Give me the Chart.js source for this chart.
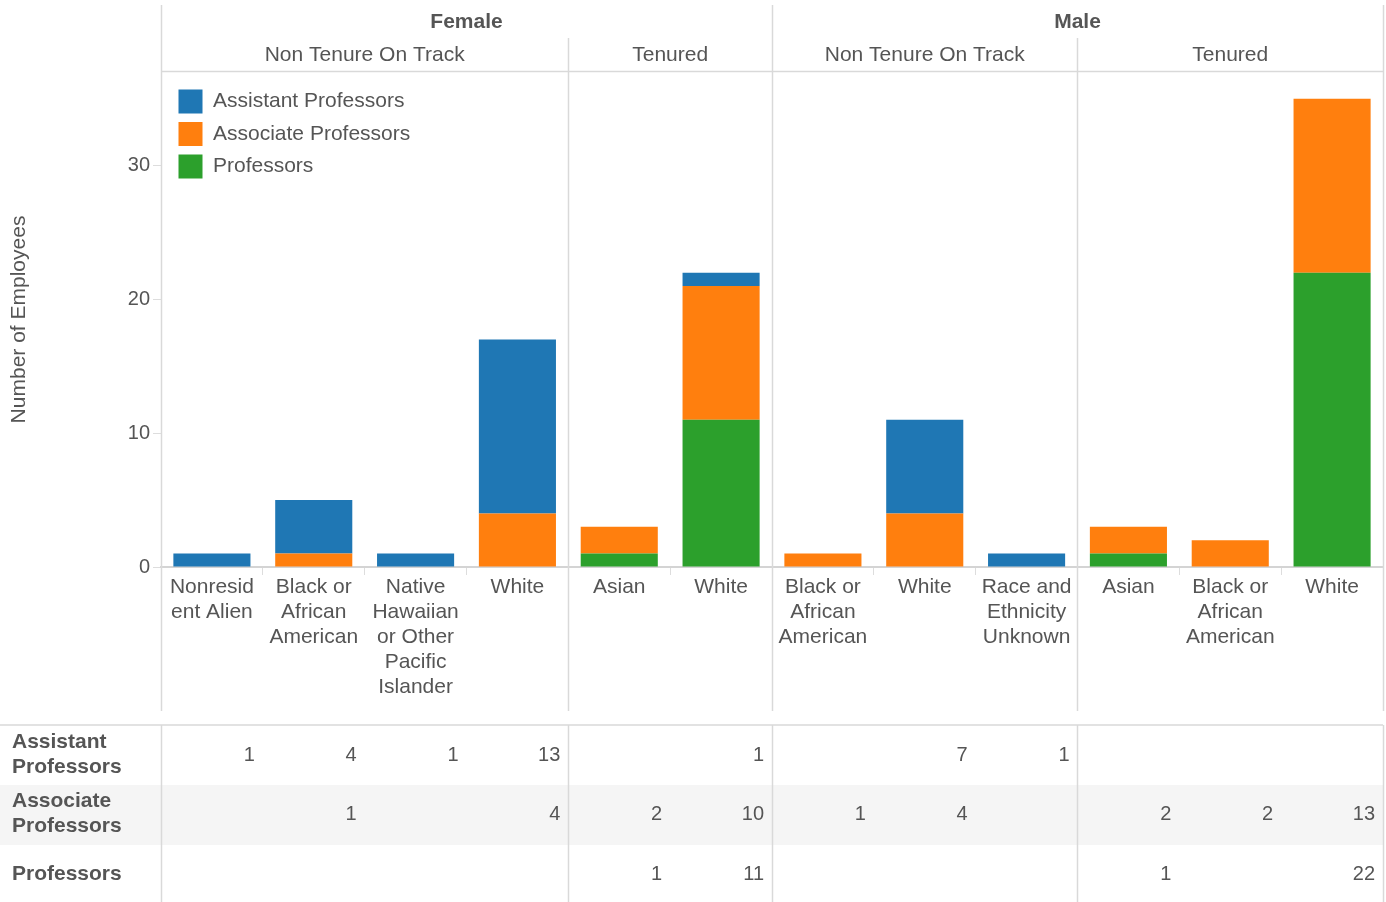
<!DOCTYPE html>
<html><head><meta charset="utf-8">
<script src="https://cdn.jsdelivr.net/npm/chart.js@4.4.1/dist/chart.umd.min.js"></script>
<style>html,body{margin:0;padding:0;background:#fff;overflow:hidden}</style>
</head><body>
<canvas id="c" width="1386" height="902"></canvas>
<script>
// ---- data ----
const genders = ['Female', 'Male'];
const genderSpans = [6, 6];
const tenures = ['Non Tenure On Track', 'Tenured', 'Non Tenure On Track', 'Tenured'];
const tenureSpans = [4, 2, 3, 3];
const categories = [
  ['Nonresid', 'ent Alien'],
  ['Black or', 'African', 'American'],
  ['Native', 'Hawaiian', 'or Other', 'Pacific', 'Islander'],
  ['White'],
  ['Asian'],
  ['White'],
  ['Black or', 'African', 'American'],
  ['White'],
  ['Race and', 'Ethnicity', 'Unknown'],
  ['Asian'],
  ['Black or', 'African', 'American'],
  ['White']
];
const assistantProfessors = [1, 4, 1, 13, null, 1, null, 7, 1, null, null, null];
const associateProfessors = [null, 1, null, 4, 2, 10, 1, 4, null, 2, 2, 13];
const professors = [null, null, null, null, 1, 11, null, null, null, 1, null, 22];
const seriesNames = ['Assistant Professors', 'Associate Professors', 'Professors'];
const rowLabels = [['Assistant', 'Professors'], ['Associate', 'Professors'], ['Professors']];
const yTicks = [0, 10, 20, 30];

// ---- styles ----
const FONT = "'Liberation Sans', Arial, sans-serif";
const TXT = '#555555';
const LINE = '#d9d9d9';
const colors = ['#1f77b4', '#ff7f0e', '#2ca02c'];
Chart.defaults.font.family = FONT;
Chart.defaults.color = TXT;

const tableSeries = [assistantProfessors, associateProfessors, professors];

const frame = {
  id: 'frame',
  afterLayout(chart) {
    const lg = chart.legend, a = chart.chartArea;
    if (lg) {
      const w = lg.width, h = lg.height;
      lg.left = a.left + 9; lg.top = a.top + 9;
      lg.right = lg.left + w; lg.bottom = lg.top + h;
    }
  },
  beforeDraw(chart) {
    const {ctx, chartArea: a} = chart;
    ctx.save();
    ctx.fillStyle = '#f5f5f5';
    ctx.fillRect(0, 785, a.right, 60);
    ctx.restore();
  },
  afterDraw(chart) {
    const {ctx, chartArea: a, scales: {x}} = chart;
    const n = categories.length;
    const colW = (x.right - x.left) / n;
    const edge = i => (i < n ? x.getPixelForValue(i) - colW / 2 : x.getPixelForValue(n - 1) + colW / 2);
    ctx.save();
    ctx.strokeStyle = LINE;
    ctx.lineWidth = 1.5;
    const vline = (xx, y0, y1) => { ctx.beginPath(); ctx.moveTo(xx, y0); ctx.lineTo(xx, y1); ctx.stroke(); };
    const hline = (y, x0, x1) => { ctx.beginPath(); ctx.moveTo(x0, y); ctx.lineTo(x1, y); ctx.stroke(); };
    const gIdx = [0]; genderSpans.reduce((s, v) => { gIdx.push(s + v); return s + v; }, 0);
    const tIdx = [0]; tenureSpans.reduce((s, v) => { tIdx.push(s + v); return s + v; }, 0);
    tIdx.forEach(i => {
      const xx = Math.round(edge(i)) + 0.5;
      const top = gIdx.includes(i) ? 5 : 38;
      vline(xx, top, 711);
      vline(xx, 725, 902);
    });
    hline(a.top - 0.5, a.left, a.right);
    hline(725, 0, a.right);

    // headers
    ctx.fillStyle = TXT;
    ctx.textAlign = 'center';
    ctx.textBaseline = 'middle';
    ctx.font = 'bold 21px ' + FONT;
    genders.forEach((g, k) => {
      ctx.fillText(g, (edge(gIdx[k]) + edge(gIdx[k + 1])) / 2, 22);
    });
    ctx.font = '21px ' + FONT;
    tenures.forEach((t, k) => {
      ctx.fillText(t, (edge(tIdx[k]) + edge(tIdx[k + 1])) / 2, 55);
    });

    // table
    const rowY = [755, 814, 874];
    ctx.textAlign = 'left';
    ctx.font = 'bold 21px ' + FONT;
    rowLabels.forEach((lines, r) => {
      const off = (lines.length - 1) * 12.5;
      lines.forEach((l, j) => ctx.fillText(l, 12, rowY[r] - off + j * 25));
    });
    ctx.textAlign = 'right';
    ctx.font = '20px ' + FONT;
    tableSeries.forEach((arr, r) => {
      arr.forEach((v, i) => {
        if (v !== null && v !== undefined) ctx.fillText(String(v), edge(i + 1) - 8, rowY[r]);
      });
    });
    ctx.restore();
  }
};

new Chart(document.getElementById('c'), {
  type: 'bar',
  data: {
    labels: categories,
    datasets: [
      {label: seriesNames[2], data: professors, backgroundColor: colors[2]},
      {label: seriesNames[1], data: associateProfessors, backgroundColor: colors[1]},
      {label: seriesNames[0], data: assistantProfessors, backgroundColor: colors[0]}
    ]
  },
  options: {
    responsive: false,
    devicePixelRatio: 1,
    animation: false,
    datasets: {bar: {barPercentage: 0.757, categoryPercentage: 1, borderWidth: 0}},
    layout: {padding: {top: 72, right: 3, left: 0, bottom: 0}},
    plugins: {
      tooltip: {enabled: false},
      legend: {
        position: 'chartArea',
        align: 'start',
        reverse: true,
        labels: {
          boxWidth: 24, boxHeight: 24, padding: 8.5,
          color: TXT,
          font: {size: 21}
        }
      }
    },
    scales: {
      x: {
        stacked: true,
        afterFit: s => { s.height = 335; },
        grid: {display: true, offset: true, drawOnChartArea: false, drawTicks: true, tickLength: 8, color: '#dddddd', lineWidth: 1},
        border: {display: true, color: '#d4d4d4', width: 2},
        ticks: {
          autoSkip: false, maxRotation: 0, minRotation: 0, padding: 0,
          color: TXT, font: {size: 21, lineHeight: '25px'}
        }
      },
      y: {
        stacked: true,
        min: 0, max: 37,
        afterFit: s => { s.width = 161; },
        afterBuildTicks: s => { s.ticks = yTicks.map(v => ({value: v})); },
        grid: {display: true, drawOnChartArea: false, drawTicks: true, tickLength: 8, color: '#dddddd'},
        border: {display: false},
        ticks: {padding: 3, color: TXT, font: {size: 20}},
        title: {display: true, text: 'Number of Employees', color: TXT, font: {size: 21}, padding: {top: 7, bottom: 0}}
      }
    }
  },
  plugins: [frame]
});
</script>
</body></html>
